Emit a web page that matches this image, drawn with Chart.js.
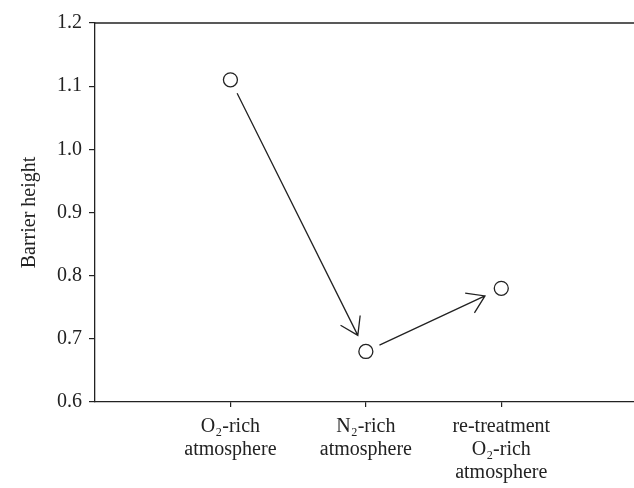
<!DOCTYPE html>
<html>
<head>
<meta charset="utf-8">
<script src="https://cdn.jsdelivr.net/npm/chart.js@4"></script>
<style>
  html, body { margin: 0; padding: 0; background: #fff; }
  #wrap { width: 634px; height: 488px; }
</style>
</head>
<body>
<div id="wrap"><canvas id="barrierChart"></canvas></div>
<script>
// categories (x tick labels, one line per entry)
var categories = [
    ["O\u2082-rich", "atmosphere"],
    ["N\u2082-rich", "atmosphere"],
    ["re-treatment", "O\u2082-rich", "atmosphere"]
];
var barrierHeight = [1.11, 0.68, 0.78];
var yTicks = [0.6, 0.7, 0.8, 0.9, 1.0, 1.1, 1.2];

var ink = "#222";
var serif = "'Liberation Serif', 'Times New Roman', serif";

var points = [];
for (var i = 0; i < barrierHeight.length; i++) {
    points.push({ x: i + 1, y: barrierHeight[i] });
}

// arrows between consecutive points + top frame line
var arrowPlugin = {
    id: "arrows",
    afterDatasetsDraw: function(chart) {
        var ctx = chart.ctx;
        var area = chart.chartArea;
        var pts = chart.getDatasetMeta(0).data;

        ctx.save();
        ctx.strokeStyle = ink;
        ctx.lineWidth = 1.3;

        ctx.beginPath();
        ctx.moveTo(area.left, area.top);
        ctx.lineTo(chart.width, area.top);
        ctx.stroke();

        for (var i = 0; i < pts.length - 1; i++) {
            var a = pts[i], b = pts[i + 1];
            var ang = Math.atan2(b.y - a.y, b.x - a.x);
            var sx = a.x + Math.cos(ang) * 15, sy = a.y + Math.sin(ang) * 15;
            var ex = b.x - Math.cos(ang) * 18, ey = b.y - Math.sin(ang) * 18;
            ctx.beginPath();
            ctx.moveTo(sx, sy);
            ctx.lineTo(ex, ey);
            var head = 20, spread = 0.58;
            ctx.moveTo(ex - Math.cos(ang - spread) * head, ey - Math.sin(ang - spread) * head);
            ctx.lineTo(ex, ey);
            ctx.lineTo(ex - Math.cos(ang + spread) * head, ey - Math.sin(ang + spread) * head);
            ctx.stroke();
        }
        ctx.restore();
    }
};

var canvas = document.getElementById("barrierChart");

new Chart(canvas, {
    type: "scatter",
    data: {
        datasets: [{
            data: points,
            pointStyle: "circle",
            pointRadius: 7,
            pointHoverRadius: 7,
            pointBorderWidth: 1.3,
            pointBorderColor: ink,
            pointBackgroundColor: "#fff"
        }]
    },
    options: {
        responsive: true,
        maintainAspectRatio: false,
        animation: false,
        layout: { autoPadding: false, padding: { top: 23, right: 0, bottom: 0, left: 0 } },
        plugins: {
            legend: { display: false },
            tooltip: { enabled: false }
        },
        scales: {
            x: {
                type: "linear",
                min: 0,
                max: 3.98,
                afterBuildTicks: function(scale) {
                    scale.ticks = categories.map(function(c, i) { return { value: i + 1 }; });
                },
                afterFit: function(scale) {
                    scale.height = 86;
                    scale.paddingRight = 0;
                    scale.paddingLeft = 0;
                },
                grid: { drawOnChartArea: false, drawTicks: true, tickLength: 5, color: ink, lineWidth: 1.2 },
                border: { display: true, color: ink, width: 1.3 },
                ticks: {
                    color: ink,
                    padding: 8,
                    maxRotation: 0,
                    autoSkip: false,
                    font: { family: serif, size: 20, lineHeight: 1.15 },
                    callback: function(v) { return categories[Math.round(v) - 1]; }
                }
            },
            y: {
                min: 0.6,
                max: 1.2,
                afterBuildTicks: function(scale) {
                    scale.ticks = yTicks.map(function(v) { return { value: v }; });
                },
                afterFit: function(scale) { scale.width = 95; },
                grid: { drawOnChartArea: false, drawTicks: true, tickLength: 6, color: ink, lineWidth: 1.2 },
                border: { display: true, color: ink, width: 1.3 },
                ticks: {
                    color: ink,
                    padding: 7,
                    font: { family: serif, size: 20 },
                    callback: function(v) { return v.toFixed(1); }
                },
                title: {
                    display: true,
                    text: "Barrier height",
                    color: ink,
                    padding: { top: 18, bottom: 0 },
                    font: { family: serif, size: 20, lineHeight: 1.2 }
                }
            }
        }
    },
    plugins: [arrowPlugin]
});
</script>
</body>
</html>
